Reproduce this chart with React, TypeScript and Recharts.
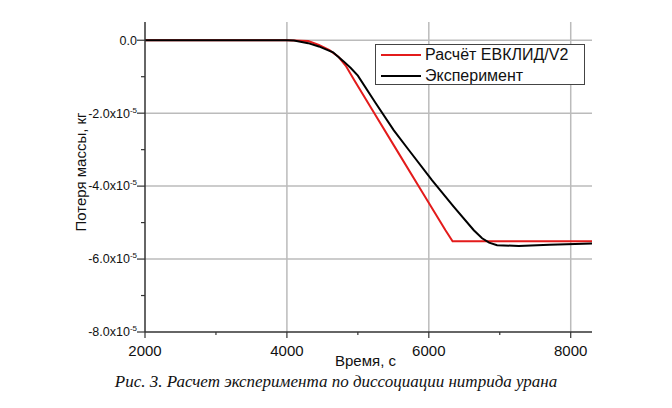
import React from "react";
import {
  LineChart,
  Line,
  XAxis,
  YAxis,
} from "recharts";

// Расчёт ЕВКЛИД/V2
const calcTime = [2000, 3000, 4000, 4300, 4450, 4600, 4730, 4830, 4950, 5200, 5550, 5900, 6235, 6335, 7000, 8300];
const calcLoss = [0, 0, 0, -0.02, -0.13, -0.27, -0.46, -0.7, -1.1, -1.9, -3.02, -4.14, -5.21, -5.51, -5.51, -5.51];

// Эксперимент
const expTime = [2000, 3000, 4000, 4100, 4300, 4450, 4650, 4800, 4900, 5000, 5250, 5507, 5718, 6047, 6350, 6634, 6751, 6850, 6962, 7268, 7700, 8300];
const expLoss = [0, 0, 0, -0.01, -0.08, -0.17, -0.33, -0.58, -0.76, -0.97, -1.72, -2.47, -3.01, -3.84, -4.56, -5.21, -5.43, -5.55, -5.62, -5.64, -5.61, -5.57];

const SCALE = 1e-5;
const calcData = calcTime.map((t, i) => ({ t, v: calcLoss[i] * SCALE }));
const expData = expTime.map((t, i) => ({ t, v: expLoss[i] * SCALE }));

const seriesNames = ["Расчёт ЕВКЛИД/V2", "Эксперимент"];
const seriesColors = ["#e31b1b", "#000000"];

const xDomain = [2000, 8300];
const yDomain = [-8 * SCALE, 0.5 * SCALE];

const xTicks = [2000, 3000, 4000, 5000, 6000, 7000, 8000];
const xMajor = [2000, 4000, 6000, 8000];
const yTicks = [-8, -7, -6, -5, -4, -3, -2, -1, 0].map((v) => v * SCALE);
const yMajorMantissa = [-8, -6, -4, -2, 0];

const gridTime = [4000, 6000, 8000];
const gridLoss = [-6, -4, -2, 0].map((v) => v * SCALE);

// grid lines drawn as two-point lines through the chart's own scales
const gridLines = [
  ...gridTime.map((t) => [{ t, v: yDomain[0] }, { t, v: yDomain[1] }]),
  ...gridLoss.map((v) => [{ t: xDomain[0], v }, { t: xDomain[1], v }]),
];

const FONT = "'Liberation Sans', Arial, sans-serif";
const AXIS = "#333";
const GRID = "#bbbbbb";

const XTick = (props: any) => {
  const { x, y, payload } = props;
  const major = xMajor.includes(payload.value);
  return (
    <g>
      <line x1={x} x2={x} y1={y} y2={y + (major ? 6 : 3)} stroke={AXIS} strokeWidth={1.2} />
      {major && (
        <text x={x} y={y + 18} textAnchor="middle" dominantBaseline="central" fontFamily={FONT} fontSize={15} fill="#111">
          {payload.value}
        </text>
      )}
    </g>
  );
};

const YTick = (props: any) => {
  const { x, y, payload } = props;
  const m = Math.round(payload.value / SCALE);
  const major = yMajorMantissa.includes(m);
  return (
    <g>
      <line x1={x - (major ? 8 : 4)} x2={x} y1={y} y2={y} stroke={AXIS} strokeWidth={1.2} />
      {major && (
        <text x={x - 8} y={y} textAnchor="end" dy="0.35em" fontFamily={FONT} fontSize={12.5} fill="#111">
          {m === 0 ? (
            "0.0"
          ) : (
            <>
              <tspan>{`${m.toFixed(1)}x10`}</tspan>
              <tspan dy={-5} fontSize={8}>-5</tspan>
            </>
          )}
        </text>
      )}
    </g>
  );
};

const YLabel = (props: any) => {
  const { viewBox } = props;
  const cx = 80;
  const cy = viewBox.y + viewBox.height / 2 - 5;
  return (
    <text
      x={cx}
      y={cy}
      transform={`rotate(-90, ${cx}, ${cy})`}
      textAnchor="middle"
      dominantBaseline="central"
      fontFamily={FONT}
      fontSize={15}
      fill="#111"
    >
      Потеря массы, кг
    </text>
  );
};

const XLabel = (props: any) => {
  const { viewBox } = props;
  return (
    <text
      x={viewBox.x + viewBox.width / 2 - 3}
      y={viewBox.y + 28}
      textAnchor="middle"
      dominantBaseline="central"
      fontFamily={FONT}
      fontSize={15}
      fill="#111"
    >
      Время, с
    </text>
  );
};

const LegendBox = () => (
  <div
    style={{
      position: "absolute",
      left: 375,
      top: 44,
      width: 210,
      height: 41,
      border: "1px solid #444",
      background: "#fff",
      boxSizing: "border-box",
      fontFamily: FONT,
      fontSize: 16,
      color: "#111",
    }}
  >
    {seriesNames.map((name, i) => (
      <div key={name} style={{ position: "absolute", left: 5, top: 0 + i * 21, height: 20, display: "flex", alignItems: "center" }}>
        <div style={{ width: 40, height: 2, background: seriesColors[i], marginRight: 4 }} />
        <span style={{ lineHeight: "20px" }}>{name}</span>
      </div>
    ))}
  </div>
);

export default function App() {
  return (
    <div style={{ position: "relative", width: 672, height: 408, background: "#fff" }}>
      <style>{"body{margin:0}"}</style>
      <LineChart width={672} height={372} margin={{ top: 22, right: 80, bottom: 0, left: 0 }}>
        <XAxis
          type="number"
          dataKey="t"
          domain={xDomain}
          ticks={xTicks}
          allowDataOverflow
          height={40}
          tickSize={0}
          tickMargin={0}
          tickLine={false}
          tick={<XTick />}
          axisLine={{ stroke: AXIS, strokeWidth: 1.5 }}
          label={<XLabel />}
        />
        <YAxis
          type="number"
          dataKey="v"
          domain={yDomain}
          ticks={yTicks}
          allowDataOverflow
          width={145}
          tickSize={0}
          tickMargin={0}
          tickLine={false}
          tick={<YTick />}
          axisLine={{ stroke: AXIS, strokeWidth: 1.5 }}
          label={<YLabel />}
        />
        {gridLines.map((d, i) => (
          <Line
            key={`grid${i}`}
            data={d}
            dataKey="v"
            type="linear"
            stroke={GRID}
            strokeWidth={1.5}
            dot={false}
            activeDot={false}
            legendType="none"
            isAnimationActive={false}
          />
        ))}
        <Line
          data={calcData}
          dataKey="v"
          name={seriesNames[0]}
          type="linear"
          stroke={seriesColors[0]}
          strokeWidth={2}
          dot={false}
          activeDot={false}
          isAnimationActive={false}
        />
        <Line
          data={expData}
          dataKey="v"
          name={seriesNames[1]}
          type="linear"
          stroke={seriesColors[1]}
          strokeWidth={2}
          dot={false}
          activeDot={false}
          isAnimationActive={false}
        />
      </LineChart>
      <LegendBox />
      <div
        style={{
          position: "absolute",
          left: 0,
          top: 372,
          width: 672,
          textAlign: "center",
          fontFamily: "'Liberation Serif', 'Times New Roman', serif",
          fontStyle: "italic",
          fontSize: 17,
          color: "#111",
        }}
      >
        Рис. 3. Расчет эксперимента по диссоциации нитрида урана
      </div>
    </div>
  );
}
